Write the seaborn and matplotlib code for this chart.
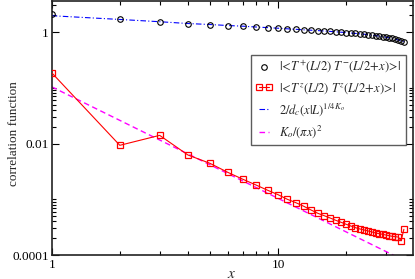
import numpy as np
import pandas as pd
import matplotlib
matplotlib.use("Agg")
import matplotlib.pyplot as plt
from matplotlib.lines import Line2D
from matplotlib.legend_handler import HandlerLine2D
import seaborn as sns

# ---- data ----
x_vals = list(range(1, 37))
tpm_vals = [2.10, 1.69, 1.53, 1.42, 1.363, 1.308, 1.271, 1.229, 1.199, 1.170,
            1.141, 1.118, 1.095, 1.077, 1.060, 1.042, 1.025, 1.008, 0.992, 0.976,
            0.960, 0.944, 0.928, 0.913, 0.895, 0.880, 0.862, 0.844, 0.827, 0.807,
            0.787, 0.765, 0.743, 0.719, 0.695, 0.670]
tzz_vals = [0.186, 0.00928, 0.0140, 0.00622, 0.00442, 0.00304, 0.00228, 0.00180,
            0.00145, 0.00121, 0.000998, 0.000867, 0.000748, 0.000641, 0.000560,
            0.000507, 0.000461, 0.000419, 0.000386, 0.000356, 0.000331, 0.000309,
            0.000293, 0.000281, 0.000270, 0.000259, 0.000248, 0.000241, 0.000235,
            0.000228, 0.000222, 0.000216, 0.000213, 0.000210, 0.000180, 0.000289]
fit_blue_vals = [1.96, 1.68, 1.53, 1.42, 1.363, 1.308, 1.271, 1.229, 1.199, 1.170,
                 1.141, 1.118, 1.095, 1.077, 1.060, 1.042, 1.025, 1.008, 0.992, 0.976,
                 0.960, 0.944, 0.928, 0.913, 0.895, 0.880, 0.862, 0.844, 0.827, 0.807,
                 0.787, 0.765, 0.743, 0.719, 0.695, 0.670]
fit_mag_x = [1, 36]
fit_mag_vals = [0.104, 8.02e-5]

legend_labels = [r'$|\!<\!T^{+}(L/2)\ T^{-}(L/2\!+\!x)\!>\!|$',
                 r'$|\!<\!T^{z}(L/2)\ T^{z}(L/2\!+\!x)\!>\!|$',
                 r'$2/d_c(x|L)^{1/4K_o}$',
                 r'$K_o/(\pi x)^2$']
ytick_vals = [1e-4, 1e-2, 1]
ytick_labels = ["0.0001", "0.01", "1"]
xtick_vals = [1, 10]
xtick_labels = ["1", "10"]

df_pm = pd.DataFrame({"x": x_vals, "y": tpm_vals})
df_zz = pd.DataFrame({"x": x_vals, "y": tzz_vals})
df_bl = pd.DataFrame({"x": x_vals, "y": fit_blue_vals})
df_mg = pd.DataFrame({"x": fit_mag_x, "y": fit_mag_vals})

sns.set_theme(style="ticks")
plt.rcParams["font.family"] = ["Liberation Serif", "DejaVu Serif"]
plt.rcParams["mathtext.fontset"] = "stix"

W, H = 415, 279
fig = plt.figure(figsize=(W / 100, H / 100), dpi=100)
ax = fig.add_axes([51.7 / W, 24 / H, (412.5 - 51.7) / W, (255 - 1) / H])

blue = "#0000ff"
red = "#ff0000"
mag = "#ff00ff"

sns.lineplot(data=df_mg, x="x", y="y", ax=ax, color=mag, lw=1.0,
             linestyle=(0, (4, 2.5)), zorder=2)
sns.lineplot(data=df_bl, x="x", y="y", ax=ax, color=blue, lw=0.8,
             linestyle=(0, (5, 2, 1, 2)), zorder=2)
sns.lineplot(data=df_zz, x="x", y="y", ax=ax, color=red, lw=0.8,
             marker="s", markersize=4.2, markerfacecolor="none",
             markeredgecolor=red, markeredgewidth=0.9, zorder=3)
sns.lineplot(data=df_pm, x="x", y="y", ax=ax, color="black", linestyle="none",
             marker="o", markersize=4.0, markerfacecolor="none",
             markeredgecolor="black", markeredgewidth=0.8, zorder=4)

ax.set_xscale("log")
ax.set_yscale("log")
ax.set_xlim(1, 39.3)
ax.set_ylim(1e-4, 3.6)

ax.set_xticks(xtick_vals)
ax.set_xticklabels(xtick_labels)
ax.set_xticks([2, 3, 4, 5, 6, 7, 8, 9, 20, 30], minor=True)
ax.set_yticks(ytick_vals)
ax.set_yticklabels(ytick_labels)
ax.set_yticks([2e-4, 3e-4, 4e-4, 5e-4, 6e-4, 7e-4, 8e-4, 9e-4, 1e-3,
               2e-2, 3e-2, 4e-2, 5e-2, 6e-2, 7e-2, 8e-2, 9e-2, 1e-1,
               2, 3], minor=True)
ax.xaxis.set_minor_formatter(matplotlib.ticker.NullFormatter())
ax.yaxis.set_minor_formatter(matplotlib.ticker.NullFormatter())

ax.tick_params(which="both", direction="in", top=True, right=True,
               labelsize=9.5, colors="black", width=0.8)
ax.tick_params(which="major", length=5)
ax.tick_params(which="minor", length=3)
ax.tick_params(axis="y", pad=2)
ax.tick_params(axis="x", pad=3)
for s in ax.spines.values():
    s.set_linewidth(1.2)
    s.set_color("#222222")

ax.set_xlabel(r"$x$", fontsize=11)
ax.set_ylabel("correlation function", fontsize=9.5)
ax.xaxis.set_label_coords(0.5, -0.075)
ax.yaxis.set_label_coords(-0.105, 0.48)
ax.yaxis.label.set_verticalalignment("center")
ax.xaxis.label.set_verticalalignment("center")

h_pm = Line2D([], [], color="black", linestyle="none", marker="o", markersize=4.0,
              markerfacecolor="none", markeredgecolor="black", markeredgewidth=0.8)
h_zz = Line2D([], [], color=red, lw=0.8, marker="s", markersize=4.2,
              markerfacecolor="none", markeredgecolor=red, markeredgewidth=0.9)
h_bl = Line2D([], [], color=blue, lw=0.8, linestyle=(0, (5, 2, 1, 2)))
h_mg = Line2D([], [], color=mag, lw=1.0, linestyle=(0, (4, 2.5)))
leg = ax.legend([h_pm, h_zz, h_bl, h_mg], legend_labels,
                loc="upper right", bbox_to_anchor=(406 / W, 1 - 55 / H),
                bbox_transform=fig.transFigure, fontsize=9,
                handlelength=1.4, handletextpad=0.5, borderpad=0.35,
                borderaxespad=0, labelspacing=0.45, numpoints=2,
                frameon=True, fancybox=False,
                handler_map={h_pm: HandlerLine2D(numpoints=1)})
leg.get_frame().set_edgecolor("#333333")
leg.get_frame().set_linewidth(1.0)

fig.savefig("out.png", dpi=100)
